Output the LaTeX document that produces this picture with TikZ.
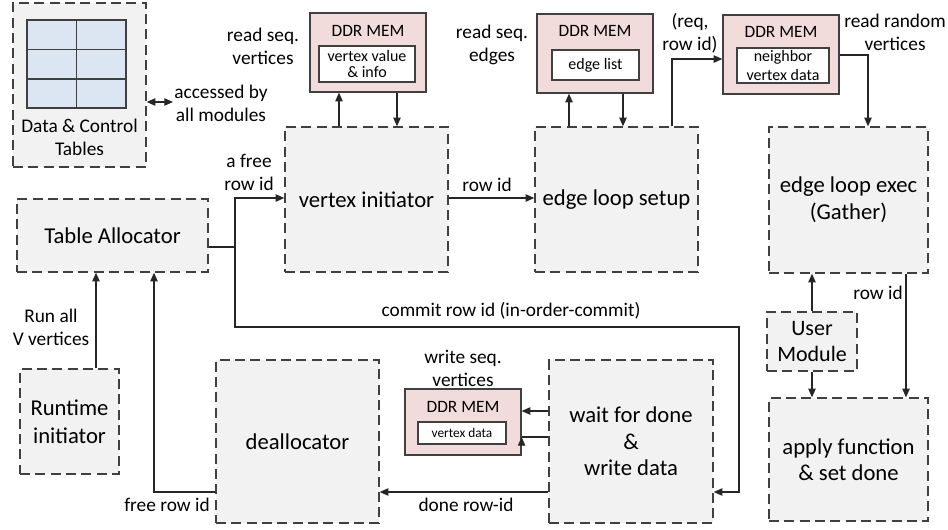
\documentclass[tikz,border=0pt]{standalone}
\usepackage{fontspec}
\setmainfont{Carlito}
\usetikzlibrary{arrows.meta,calc}
\definecolor{boxfill}{HTML}{F2F2F2}
\definecolor{boxline}{HTML}{404040}
\definecolor{ddrfill}{HTML}{F2DCDB}
\definecolor{cellfill}{HTML}{DCE6F2}
\definecolor{wirec}{HTML}{262626}
\begin{document}
\begin{tikzpicture}[x=0.75pt,y=-0.75pt,
 box/.style={draw=boxline,fill=boxfill,line width=1pt,dash pattern=on 7.5pt off 4pt,inner sep=0pt,align=center,font=\fontsize{17}{20}\selectfont},
 ddr/.style={draw=boxline,fill=ddrfill,line width=0.9pt,inner sep=0pt},
 innerbox/.style={draw=boxline,fill=white,line width=0.9pt,inner sep=0pt,align=center,font=\fontsize{12}{12.75}\selectfont},
 ddrtxt/.style={inner sep=0pt,font=\fontsize{13}{15}\selectfont},
 lbl/.style={inner sep=0pt,align=center,font=\fontsize{14.5}{17.25}\selectfont},
 wire/.style={draw=wirec,line width=0.9pt},
 arr/.style={wire,-{Triangle[length=6.5pt,width=5.5pt]}},
 dblarr/.style={wire,{Triangle[length=6.5pt,width=5.5pt]}-{Triangle[length=6.5pt,width=5.5pt]}},
]
\fill[white] (0,0) rectangle (948,529);
\useasboundingbox (0,0) rectangle (948,529);

% boxes
\node[box,minimum width=99.75pt,minimum height=123pt] (tables) at (79.5,85) {};
\draw[draw=boxline,fill=cellfill,line width=0.9pt] (27,20) rectangle (126,108);
\draw[draw=boxline,line width=0.9pt] (27,49.5) -- (126,49.5) (27,79) -- (126,79) (76.5,20) -- (76.5,108);
\node[lbl] (tablestxt) at (79.5,137.5) {Data \& Control\\Tables};

\node[box,minimum width=143.25pt,minimum height=54.75pt] (talloc) at (112.5,235.5) {Table Allocator};
\node[box,minimum width=74.25pt,minimum height=78.75pt,font=\fontsize{17}{21}\selectfont] (runtime) at (69.5,421.5) {Runtime\\initiator};
\node[box,minimum width=122.25pt,minimum height=108.75pt] (vinit) at (366.5,199.5) {vertex initiator};
\node[box,minimum width=122.25pt,minimum height=108.75pt] (esetup) at (616.5,199.5) {edge loop setup};
\node[box,minimum width=119.25pt,minimum height=109.5pt] (eexec) at (848.5,200) {edge loop exec\\(Gather)};
\node[box,minimum width=67.5pt,minimum height=44.25pt,font=\fontsize{16.5}{19.5}\selectfont] (user) at (812,341.5) {User\\Module};
\node[box,minimum width=119.25pt,minimum height=92.25pt,font=\fontsize{17}{19.5}\selectfont] (apply) at (848.5,459.5) {apply function\\\& set done};
\node[box,minimum width=122.25pt,minimum height=122.25pt] (dealloc) at (297.5,441.5) {deallocator};
\node[box,minimum width=123pt,minimum height=122.25pt] (wait) at (631,441.5) {wait for done\\\&\\write data};

% DDR memories
\node[ddr,minimum width=87pt,minimum height=59.25pt] (ddr1) at (368,52.5) {};
\node[ddrtxt] (ddr1t) at (368,31) {DDR MEM};
\node[innerbox,minimum width=72pt,minimum height=27pt] (ddr1i) at (367,64) {vertex value\\\& info};

\node[ddr,minimum width=87pt,minimum height=59.25pt] (ddr2) at (595,53.5) {};
\node[ddrtxt] (ddr2t) at (595,31) {DDR MEM};
\node[innerbox,minimum width=65.25pt,minimum height=22.5pt] (ddr2i) at (595.5,65) {edge list};

\node[ddr,minimum width=87pt,minimum height=59.25pt] (ddr3) at (781,54.5) {};
\node[ddrtxt] (ddr3t) at (781,32) {DDR MEM};
\node[innerbox,minimum width=69pt,minimum height=26.25pt,font=\fontsize{12}{13.5}\selectfont] (ddr3i) at (783,65.5) {neighbor\\vertex data};

\node[ddr,minimum width=87pt,minimum height=49.5pt] (ddr4) at (463,422) {};
\node[ddrtxt] (ddr4t) at (463,407) {DDR MEM};
\node[innerbox,minimum width=66pt,minimum height=16.5pt,font=\fontsize{10}{12}\selectfont] (ddr4i) at (462,433) {vertex data};

% labels
\node[lbl] (lacc) at (221,103) {accessed by\\all modules};
\node[lbl] (lrv) at (263,46) {read seq.\\vertices};
\node[lbl] (lre) at (492,45) {read seq.\\edges};
\node[lbl] (lreq) at (690,33) {(req,\\row id)};
\node[lbl] (lrr) at (895,32) {read random\\vertices};
\node[lbl] (lfree) at (249,172) {a free\\row id};
\node[lbl] (lrow1) at (487,185) {row id};
\node[lbl] (lcommit) at (511,311) {commit row id (in-order-commit)};
\node[lbl] (lrow2) at (878,293) {row id};
\node[lbl] (lrun) at (51,327) {Run all\\V vertices};
\node[lbl] (lws) at (463,368) {write seq.\\vertices};
\node[lbl] (lfreeid) at (167,505) {free row id};
\node[lbl] (ldone) at (466,505) {done row-id};

% connectors
\coordinate (accend) at (173,102);
\draw[dblarr] (tables.east |- accend) -- (accend);

\draw[arr] (339,0 |- vinit.north) -- (339,0 |- ddr1.south);
\draw[arr] (397,0 |- ddr1.south) -- (397,0 |- vinit.north);
\draw[arr] (569,0 |- esetup.north) -- (569,0 |- ddr2.south);
\draw[arr] (623,0 |- ddr2.south) -- (623,0 |- esetup.north);
\draw[arr] (672,0 |- esetup.north) |- (ddr3.west |- 0,59);
\draw[arr] (ddr3.east |- 0,55) -| (868,0 |- eexec.north);

\draw[arr] (vinit.east |- 0,198) -- (esetup.west |- 0,198);

\coordinate (split) at (235,247);
\draw[arr] (talloc.east |- split) -- (split) |- (vinit.west |- 0,198);
\draw[arr] (split) -- (235,327) -- (739,327) |- (wait.east |- 0,492);

\draw[arr] (wait.west |- 0,492) -- (dealloc.east |- 0,492);
\draw[arr] (dealloc.west |- 0,492) -| (154,0 |- talloc.south);
\draw[arr] (96,0 |- runtime.north) -- (96,0 |- talloc.south);

\draw[arr] (wait.west |- 0,411) -- (ddr4.east |- 0,411);
\draw[wire] (wait.west |- 0,437) -- (ddr4.east |- 0,437);
\draw[arr] ($(ddr4.east |- 0,437)+(0,9)$) -- (ddr4.east |- 0,437);

\draw[arr] (user.north) -- (user.north |- eexec.south);
\draw[arr] (user.south) -- (user.south |- apply.north);
\draw[arr] (906,0 |- eexec.south) -- (906,0 |- apply.north);
\end{tikzpicture}
\end{document}
